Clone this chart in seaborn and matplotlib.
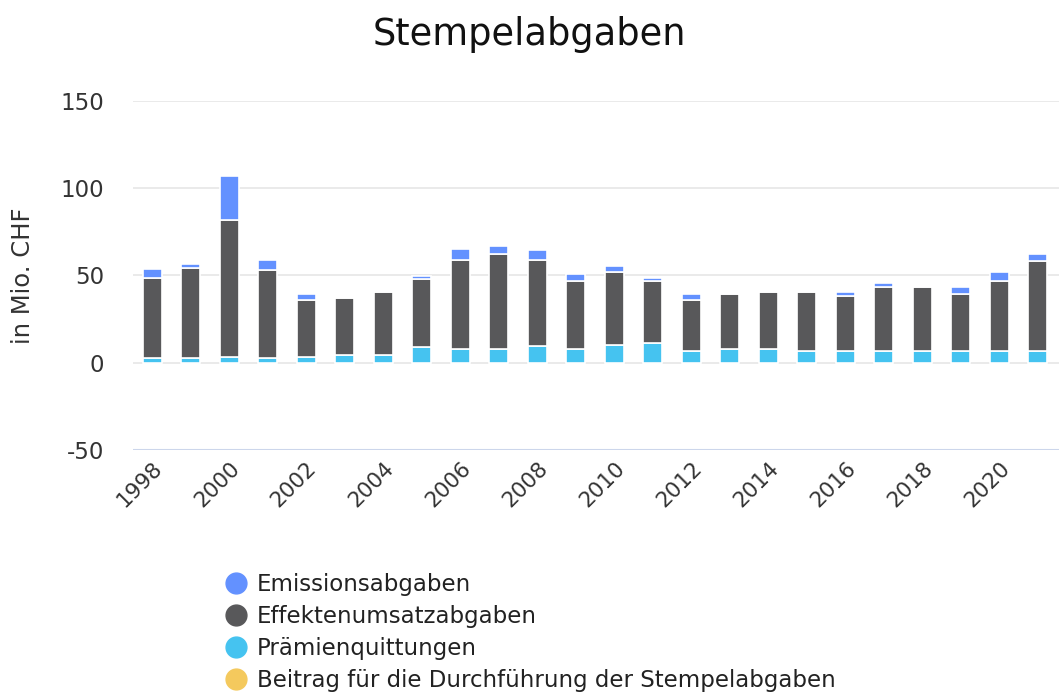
import matplotlib
matplotlib.use("Agg")
import matplotlib.pyplot as plt
import seaborn as sns
import numpy as np
import pandas as pd
from matplotlib.lines import Line2D

years = list(range(1998, 2022))
emission = [5.0, 2.0, 25.0, 6.0, 3.0, 0.0, 0.0, 1.9, 6.3, 4.6, 5.3, 4.2, 3.5, 2.1, 3.0, 0.0,
            0.0, 0.0, 2.1, 2.1, 0.0, 4.2, 5.1, 4.0]
effekten = [46.0, 52.0, 78.5, 50.4, 32.7, 32.6, 35.7, 38.9, 51.2, 54.2, 49.3, 38.8, 41.9, 35.7, 29.4, 31.3,
            32.5, 33.6, 31.5, 36.6, 36.6, 32.4, 39.9, 51.3]
praemien = [2.5, 2.5, 3.5, 2.5, 3.4, 4.6, 4.6, 8.8, 7.9, 7.9, 9.8, 7.9, 9.9, 11.0, 6.8, 7.9,
            7.9, 6.8, 6.8, 6.8, 6.8, 6.8, 6.8, 6.8]
beitrag = [0.0] * 24

series_names = ["Emissionsabgaben", "Effektenumsatzabgaben", "Prämienquittungen",
                "Beitrag für die Durchführung der Stempelabgaben"]
colors = ["#6391ff", "#58585a", "#45c3f0", "#f4c95d"]
title = "Stempelabgaben"
ylabel = "in Mio. CHF"
yticks = [-50, 0, 50, 100, 150]

sns.set_theme(style="white")
plt.rcParams["font.family"] = ["DejaVu Sans"]

fig = plt.figure(figsize=(10.59, 6.93), dpi=100)
ax = fig.add_axes([0.1256, 0.351, 0.8744, 0.503])

df = pd.DataFrame({"year": [str(y) for y in years], "Emission": emission,
                   "Effekten": effekten, "Praemien": praemien, "Beitrag": beitrag})

b_beitrag = np.zeros(len(years))
b_praem = b_beitrag + np.array(beitrag)
b_eff = b_praem + np.array(praemien)
b_em = b_eff + np.array(effekten)

common = dict(width=0.5, edgecolor="white", linewidth=1.2, ax=ax, saturation=1)
sns.barplot(data=df, x="year", y="Beitrag", color=colors[3], bottom=b_beitrag, **common)
sns.barplot(data=df, x="year", y="Praemien", color=colors[2], bottom=b_praem, **common)
sns.barplot(data=df, x="year", y="Effekten", color=colors[1], bottom=b_eff, **common)
sns.barplot(data=df, x="year", y="Emission", color=colors[0], bottom=b_em, **common)

ax.set_ylim(-50, 150)
ax.set_xlim(-0.5, 23.55)
ax.set_yticks(yticks)
ax.set_yticklabels([str(v) for v in yticks], fontsize=16.5, color="#333333")
ax.set_xticks(range(0, 24, 2))
ax.set_xticklabels([str(years[i]) for i in range(0, 24, 2)], rotation=45, ha="right",
                   rotation_mode="anchor", fontsize=15.5, color="#333333")
ax.tick_params(axis="y", length=0, pad=21)
ax.tick_params(axis="x", length=0, pad=6)
for v in [0, 50, 100, 150]:
    ax.axhline(v, color="#e6e6e6", linewidth=1.2, zorder=0)
ax.axhline(-50, color="#ccd6eb", linewidth=1.5, zorder=0)
for s in ax.spines.values():
    s.set_visible(False)
ax.set_xlabel("")
ax.set_ylabel(ylabel, fontsize=17.5, color="#333333")
ax.yaxis.set_label_coords(-0.106, 0.5)

fig.text(0.5, 0.95, title, ha="center", va="center", fontsize=26.5, color="#111111")

handles = [Line2D([0], [0], marker="o", linestyle="", markersize=15, markerfacecolor=c,
                  markeredgecolor=c) for c in colors]
leg = fig.legend(handles, series_names, loc="upper left", bbox_to_anchor=(0.2025, 0.19),
                 frameon=False, fontsize=16.5, handletextpad=0.45, labelspacing=0.4,
                 handlelength=0.9, borderpad=0)
for t in leg.get_texts():
    t.set_color("#222222")

fig.savefig("out.png", dpi=100)
